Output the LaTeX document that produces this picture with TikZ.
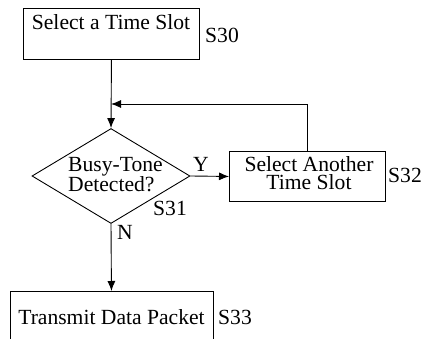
\documentclass[tikz,border=0pt]{standalone}
\usepackage{fontspec}
\setmainfont{Liberation Serif}
\usetikzlibrary{shapes.geometric,arrows.meta}
\begin{document}
\begin{tikzpicture}[x=1pt,y=-1pt,
  every node/.style={font=\fontsize{21.6}{18.5}\selectfont, inner sep=0pt},
  box/.style={draw, line width=0.9pt, anchor=north west},
  dec/.style={draw, diamond, line width=0.9pt, minimum width=158pt, minimum height=95pt},
  txt/.style={anchor=base},
  lbl/.style={anchor=base west},
  conn/.style={line width=0.9pt, -{Latex[length=10pt,width=8pt]}},
  plain/.style={line width=0.9pt}]
\clip (0,0) rectangle (423,339);
\useasboundingbox (0,0) rectangle (423,339);
% boxes
\node[box, minimum width=176pt, minimum height=51pt] (s30) at (23,8) {};
\node[txt] (t30) at (111,30) {Select a Time Slot};
\node[lbl] (l30) at (205,43) {S30};
\node[dec] (dec) at (111,176) {};
\node[anchor=base west, align=left] (tdec) at (68,192) {Busy-Tone\\Detected?};
\node[lbl] (l31) at (153,215) {S31};
\node[box, minimum width=156pt, minimum height=50pt] (s32) at (229,151) {};
\node[anchor=base, align=center] (t32) at (309,190) {Select Another\\Time Slot};
\node[lbl] (l32) at (388,183) {S32};
\node[box, minimum width=203pt, minimum height=70pt] (s33) at (9.5,291) {};
\node[txt] (t33) at (111.5,324) {Transmit Data Packet};
\node[lbl] (l33) at (218,324) {S33};
\node[lbl] (ly) at (193,172) {Y};
\node[lbl] (ln) at (117,240) {N};
\coordinate (join) at (111,104);
% connectors
\draw[conn] (s30.south) -- (dec.north);
\draw[conn] (s32.north) |- (join);
\draw[conn] (dec.east) -- (s32.west);
\draw[conn] (dec.south) -- (s33.north);
\end{tikzpicture}
\end{document}
